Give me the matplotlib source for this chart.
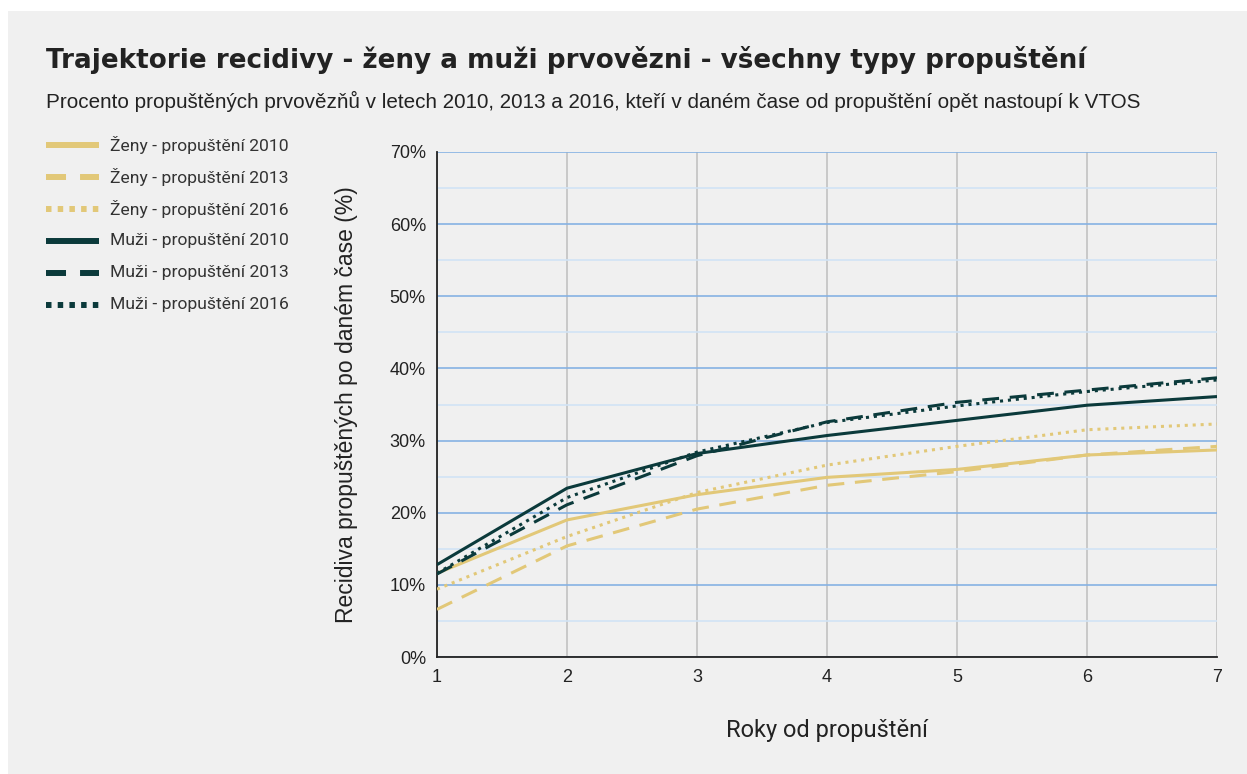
import matplotlib
matplotlib.use("Agg")
import matplotlib.pyplot as plt
from matplotlib.lines import Line2D
from matplotlib.patches import Rectangle
from matplotlib.ticker import MultipleLocator, FuncFormatter

# ── Data: recidiva (%) po letech od propuštění ───────────────
YEARS = [1, 2, 3, 4, 5, 6, 7]

ZENY_2010 = [11.6, 19.0, 22.5, 24.9, 26.0, 28.0, 28.7]
ZENY_2013 = [6.6, 15.4, 20.5, 23.8, 25.7, 28.0, 29.2]
ZENY_2016 = [9.4, 16.7, 22.8, 26.6, 29.2, 31.5, 32.3]
MUZI_2010 = [12.8, 23.4, 28.2, 30.7, 32.8, 34.9, 36.1]
MUZI_2013 = [11.5, 21.1, 27.9, 32.6, 35.3, 37.0, 38.7]
MUZI_2016 = [11.6, 22.1, 28.4, 32.5, 34.8, 36.8, 38.4]

LABELS = [
    "Ženy - propuštění 2010",
    "Ženy - propuštění 2013",
    "Ženy - propuštění 2016",
    "Muži - propuštění 2010",
    "Muži - propuštění 2013",
    "Muži - propuštění 2016",
]

GOLD = "#E2C878"
TEAL = "#0B3A3B"
BG = "#F0F0F0"
W, H = 1247, 774

SOLID, DASH, DOT = "-", (0, (5.5, 3.5)), (0, (1, 1.6))
series = [
    (ZENY_2010, GOLD, SOLID),
    (ZENY_2013, GOLD, DASH),
    (ZENY_2016, GOLD, DOT),
    (MUZI_2010, TEAL, SOLID),
    (MUZI_2013, TEAL, DASH),
    (MUZI_2016, TEAL, DOT),
]

fig = plt.figure(figsize=(W / 100, H / 100), dpi=100)
fig.patch.set_facecolor("white")
fig.patches.append(Rectangle((8 / W, 0), 1 - 8 / W, 1 - 11 / H,
                             transform=fig.transFigure, facecolor=BG,
                             edgecolor="none", zorder=-5))

ax = fig.add_axes([437 / W, 1 - 657 / H, 780 / W, 505 / H])
ax.set_facecolor(BG)

for vals, color, ls in series:
    ax.plot(YEARS, vals, color=color, linestyle=ls, linewidth=2.2,
            solid_capstyle="butt", zorder=3)

ax.set_xlim(1, 7)
ax.set_ylim(0, 70)
ax.xaxis.set_major_locator(MultipleLocator(1))
ax.yaxis.set_major_locator(MultipleLocator(10))
ax.yaxis.set_minor_locator(MultipleLocator(5))
ax.yaxis.set_major_formatter(FuncFormatter(lambda v, _: f"{v:.0f}%"))

ax.grid(axis="y", which="major", color="#86B2E3", linewidth=1.2, zorder=1)
ax.grid(axis="y", which="minor", color="#D1E3F5", linewidth=1.2, zorder=1)
ax.grid(axis="x", which="major", color="#C2C2C2", linewidth=1.2, zorder=1)

for side in ["top", "right"]:
    ax.spines[side].set_visible(False)
for side in ["left", "bottom"]:
    ax.spines[side].set_color("#222222")
    ax.spines[side].set_linewidth(1.3)

ax.tick_params(axis="both", which="both", length=0, labelsize=13,
               colors="#222222")
ax.tick_params(axis="y", pad=8)
ax.tick_params(axis="x", pad=9)
for lbl in ax.get_xticklabels() + ax.get_yticklabels():
    lbl.set_fontfamily("Liberation Sans")

ax.set_ylabel("Recidiva propuštěných po daném čase (%)", fontsize=16.5,
              family="Liberation Sans", color="#222222", va="center")
ax.yaxis.set_label_coords((346 - 437) / 780, 0.5)
ax.set_xlabel("Roky od propuštění", fontsize=17, family="Roboto",
              color="#222222", va="center")
ax.xaxis.set_label_coords(0.5, (657 - 730) / 505)

# ── Titles ───────────────────────────────────────────────────
fig.text(46 / W, 1 - 60 / H,
         "Trajektorie recidivy - ženy a muži prvovězni - všechny typy propuštění",
         fontsize=18.9, fontweight="bold", family="DejaVu Sans",
         color="#222222", va="center", ha="left")
fig.text(46 / W, 1 - 101 / H,
         "Procento propuštěných prvovězňů v letech 2010, 2013 a 2016, "
         "kteří v daném čase od propuštění opět nastoupí k VTOS",
         fontsize=14.9, family="Liberation Sans", color="#222222",
         va="center", ha="left")

# ── Legend (drawn by hand, fixed row spacing) ────────────────
legend_styles = [SOLID, (0, (3.35, 2.35)), (0, (0.92, 1.04))] * 2
for i, ((_, color, _), label) in enumerate(zip(series, LABELS)):
    y = 1 - (145 + 32 * i) / H
    fig.add_artist(Line2D([46 / W, 99 / W], [y, y], transform=fig.transFigure,
                          color=color, linestyle=legend_styles[i],
                          linewidth=4.3, solid_capstyle="butt",
                          dash_capstyle="butt"))
    fig.text(110 / W, y, label, fontsize=12.6, family="Roboto",
             color="#333333", va="center", ha="left")

fig.savefig("out.png", dpi=100, facecolor=fig.get_facecolor())
